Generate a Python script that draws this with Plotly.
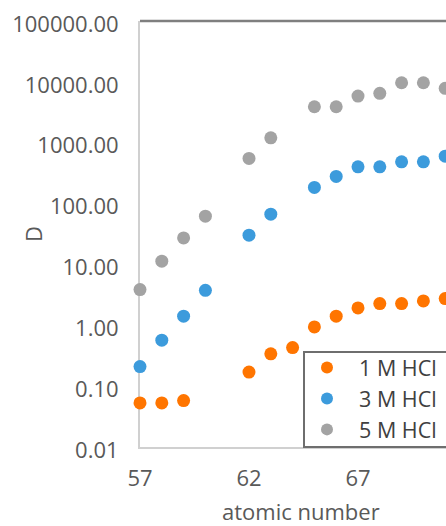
import plotly.graph_objects as go

# Distribution ratio D vs atomic number for three HCl concentrations
z_1m = [57, 58, 59, 62, 63, 64, 65, 66, 67, 68, 69, 70, 71]
d_1m = [0.053, 0.053, 0.058, 0.17, 0.34, 0.43, 0.94, 1.41, 1.93, 2.27, 2.27, 2.51, 2.75]

z_3m = [57, 58, 59, 60, 62, 63, 65, 66, 67, 68, 69, 70, 71]
d_3m = [0.21, 0.57, 1.41, 3.76, 30.2, 67, 184, 279, 401, 401, 485, 485, 602]

z_5m = [57, 58, 59, 60, 62, 63, 65, 66, 67, 68, 69, 70, 71]
d_5m = [3.86, 11.3, 27.3, 62, 552, 1205, 3896, 3896, 5840, 6470, 9670, 9670, 7820]

series_names = ["1 M HCl", "3 M HCl", "5 M HCl"]
series_colors = ["#FF7500", "#3C9BDC", "#A3A3A3"]
x_ticks = [57, 62, 67]

FONT = "Open Sans"
TICK_COLOR = "#595959"

fig = go.Figure()
for name, xs, ys, color in zip(series_names, [z_1m, z_3m, z_5m],
                               [d_1m, d_3m, d_5m], series_colors):
    fig.add_trace(go.Scatter(
        x=xs, y=ys, mode="markers", name=name, legendgroup=name,
        marker=dict(size=13, color=color, line=dict(width=0)),
        cliponaxis=False,
    ))

W, H = 446, 526
L, R, T, B = 140, 0, 21, 79
plot_w = W - L - R
plot_h = H - T - B

fig.update_layout(
    width=W, height=H,
    margin=dict(l=L, r=R, t=T, b=B, pad=0),
    paper_bgcolor="white", plot_bgcolor="white",
    font=dict(family=FONT, color=TICK_COLOR),
    showlegend=True,
    legend=dict(
        x=(295 - L) / plot_w, xanchor="left",
        y=(H - B - 347) / plot_h, yanchor="top",
        bgcolor="rgba(0,0,0,0)", borderwidth=0,
        font=dict(family=FONT, size=21.5, color="#404040"),
        tracegroupgap=0, itemsizing="constant", itemwidth=54,
    ),
)

fig.update_xaxes(
    range=[57, 57 + plot_w / 21.8],
    tickvals=x_ticks, ticktext=[str(v) for v in x_ticks],
    showgrid=False, zeroline=False, ticks="",
    showline=True, linecolor="#D0D0D0", linewidth=2,
    tickfont=dict(family=FONT, size=22, color=TICK_COLOR),
    ticklabelstandoff=11, layer="below traces",
)
fig.update_yaxes(
    type="log", range=[-2, 5], dtick=1, tickformat=".2f",
    showgrid=False, zeroline=False, ticks="",
    showline=True, linecolor="#D0D0D0", linewidth=2,
    tickfont=dict(family=FONT, size=22, color=TICK_COLOR),
    ticklabelstandoff=15, ticklabelshift=3, layer="below traces",
)

# top frame line of the plot area
fig.add_shape(type="line", xref="paper", yref="paper",
              x0=0, x1=1, y0=1, y1=1,
              line=dict(color="#7F7F7F", width=2.5))
# legend frame
fig.add_shape(type="rect", xref="paper", yref="paper",
              x0=(304 - L) / plot_w, x1=1.2, y0=0, y1=(H - B - 352) / plot_h,
              line=dict(color="#6E6E6E", width=2), fillcolor="white",
              layer="above")

fig.add_annotation(text="D", xref="paper", yref="paper",
                   x=(33 - L) / plot_w, y=0.5, textangle=-90,
                   showarrow=False, xanchor="center", yanchor="middle",
                   font=dict(family=FONT, size=22, color=TICK_COLOR))
fig.add_annotation(text="atomic number", xref="paper", yref="paper",
                   x=(301 - L) / plot_w, y=-(511 - (H - B)) / plot_h,
                   showarrow=False, xanchor="center", yanchor="middle",
                   borderpad=0,
                   font=dict(family=FONT, size=22, color=TICK_COLOR))

fig.write_html("out.html")
